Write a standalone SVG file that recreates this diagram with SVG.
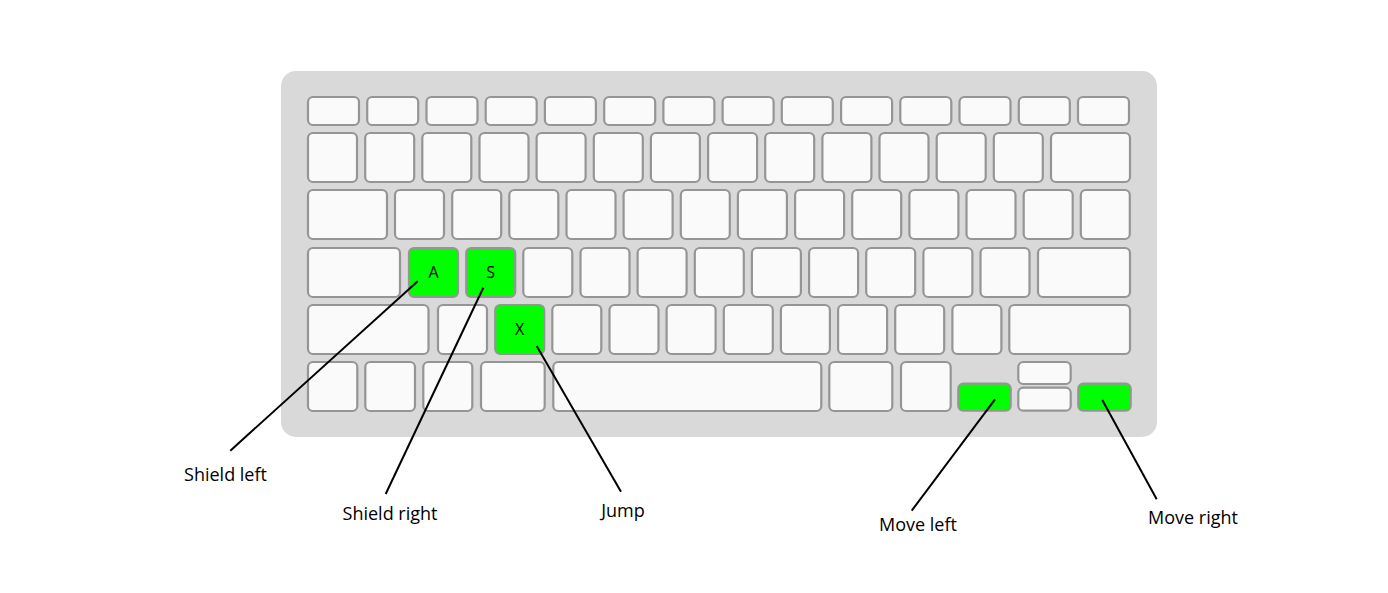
<svg xmlns="http://www.w3.org/2000/svg" width="1388" height="593" viewBox="0 0 1388 593">
<style>
.bg{fill:#ffffff}
.body{fill:#d9d9d9}
.k{fill:#fafafa;stroke:#959595;stroke-width:2.2}
.g{fill:#00ff00;stroke:#959595;stroke-width:2.2}
.kl{font-family:"Open Sans","Noto Sans",sans-serif;font-size:16px;font-weight:400;fill:#000000;text-anchor:middle}
.lbl{font-family:"Open Sans","Noto Sans",sans-serif;font-size:18px;fill:#000000;text-anchor:middle}
.c{stroke:#000000;stroke-width:2;fill:none}
</style>
<rect class="bg" x="0" y="0" width="1388" height="593"/>
<g id="keyboard">
<rect class="body" x="281" y="71" width="876" height="366" rx="15"/>
<g id="row1">
<rect class="k" x="308" y="97" width="51" height="28" rx="5"/>
<rect class="k" x="367.2" y="97" width="51" height="28" rx="5"/>
<rect class="k" x="426.5" y="97" width="51" height="28" rx="5"/>
<rect class="k" x="485.7" y="97" width="51" height="28" rx="5"/>
<rect class="k" x="544.9" y="97" width="51" height="28" rx="5"/>
<rect class="k" x="604.2" y="97" width="51" height="28" rx="5"/>
<rect class="k" x="663.4" y="97" width="51" height="28" rx="5"/>
<rect class="k" x="722.6" y="97" width="51" height="28" rx="5"/>
<rect class="k" x="781.8" y="97" width="51" height="28" rx="5"/>
<rect class="k" x="841.1" y="97" width="51" height="28" rx="5"/>
<rect class="k" x="900.3" y="97" width="51" height="28" rx="5"/>
<rect class="k" x="959.5" y="97" width="51" height="28" rx="5"/>
<rect class="k" x="1018.8" y="97" width="51" height="28" rx="5"/>
<rect class="k" x="1078" y="97" width="51" height="28" rx="5"/>
</g>
<g id="row2">
<rect class="k" x="308" y="133" width="49" height="49" rx="5"/>
<rect class="k" x="365.2" y="133" width="49" height="49" rx="5"/>
<rect class="k" x="422.3" y="133" width="49" height="49" rx="5"/>
<rect class="k" x="479.5" y="133" width="49" height="49" rx="5"/>
<rect class="k" x="536.6" y="133" width="49" height="49" rx="5"/>
<rect class="k" x="593.8" y="133" width="49" height="49" rx="5"/>
<rect class="k" x="650.9" y="133" width="49" height="49" rx="5"/>
<rect class="k" x="708.1" y="133" width="49" height="49" rx="5"/>
<rect class="k" x="765.2" y="133" width="49" height="49" rx="5"/>
<rect class="k" x="822.4" y="133" width="49" height="49" rx="5"/>
<rect class="k" x="879.5" y="133" width="49" height="49" rx="5"/>
<rect class="k" x="936.7" y="133" width="49" height="49" rx="5"/>
<rect class="k" x="993.8" y="133" width="49" height="49" rx="5"/>
<rect class="k" x="1051" y="133" width="79" height="49" rx="5"/>
</g>
<g id="row3">
<rect class="k" x="308" y="190" width="79" height="49" rx="5"/>
<rect class="k" x="395" y="190" width="49" height="49" rx="5"/>
<rect class="k" x="452.2" y="190" width="49" height="49" rx="5"/>
<rect class="k" x="509.3" y="190" width="49" height="49" rx="5"/>
<rect class="k" x="566.5" y="190" width="49" height="49" rx="5"/>
<rect class="k" x="623.6" y="190" width="49" height="49" rx="5"/>
<rect class="k" x="680.8" y="190" width="49" height="49" rx="5"/>
<rect class="k" x="737.9" y="190" width="49" height="49" rx="5"/>
<rect class="k" x="795.1" y="190" width="49" height="49" rx="5"/>
<rect class="k" x="852.2" y="190" width="49" height="49" rx="5"/>
<rect class="k" x="909.4" y="190" width="49" height="49" rx="5"/>
<rect class="k" x="966.5" y="190" width="49" height="49" rx="5"/>
<rect class="k" x="1023.7" y="190" width="49" height="49" rx="5"/>
<rect class="k" x="1080.8" y="190" width="49" height="49" rx="5"/>
</g>
<g id="row4">
<rect class="k" x="308" y="248" width="92" height="49" rx="5"/>
<rect class="k" x="523.3" y="248" width="49" height="49" rx="5"/>
<rect class="k" x="580.5" y="248" width="49" height="49" rx="5"/>
<rect class="k" x="637.6" y="248" width="49" height="49" rx="5"/>
<rect class="k" x="694.8" y="248" width="49" height="49" rx="5"/>
<rect class="k" x="751.9" y="248" width="49" height="49" rx="5"/>
<rect class="k" x="809.1" y="248" width="49" height="49" rx="5"/>
<rect class="k" x="866.2" y="248" width="49" height="49" rx="5"/>
<rect class="k" x="923.4" y="248" width="49" height="49" rx="5"/>
<rect class="k" x="980.5" y="248" width="49" height="49" rx="5"/>
<rect class="k" x="1038" y="248" width="92" height="49" rx="5"/>
</g>
<g id="row5">
<rect class="k" x="308" y="305" width="120.5" height="49" rx="5"/>
<rect class="k" x="438" y="305" width="49" height="49" rx="5"/>
<rect class="k" x="552.3" y="305" width="49" height="49" rx="5"/>
<rect class="k" x="609.5" y="305" width="49" height="49" rx="5"/>
<rect class="k" x="666.6" y="305" width="49" height="49" rx="5"/>
<rect class="k" x="723.8" y="305" width="49" height="49" rx="5"/>
<rect class="k" x="780.9" y="305" width="49" height="49" rx="5"/>
<rect class="k" x="838.1" y="305" width="49" height="49" rx="5"/>
<rect class="k" x="895.2" y="305" width="49" height="49" rx="5"/>
<rect class="k" x="952.4" y="305" width="49" height="49" rx="5"/>
<rect class="k" x="1009.3" y="305" width="120.7" height="49" rx="5"/>
</g>
<g id="row6">
<rect class="k" x="308" y="362" width="49.3" height="49" rx="5"/>
<rect class="k" x="365.3" y="362" width="49.7" height="49" rx="5"/>
<rect class="k" x="423.3" y="362" width="49" height="49" rx="5"/>
<rect class="k" x="481" y="362" width="63.7" height="49" rx="5"/>
<rect class="k" x="553.3" y="362" width="268" height="49" rx="5"/>
<rect class="k" x="829.3" y="362" width="63" height="49" rx="5"/>
<rect class="k" x="901" y="362" width="49.7" height="49" rx="5"/>
<rect class="k" x="1018.3" y="362" width="52.4" height="22" rx="5"/>
<rect class="k" x="1018.3" y="387.7" width="52.4" height="23" rx="5"/>
</g>
</g>
<g id="key-a">
<rect class="g" x="409" y="248" width="49" height="49" rx="5"/>
<text class="kl" x="433.5" y="278">A</text>
</g>
<g id="key-s">
<rect class="g" x="466.2" y="248" width="49" height="49" rx="5"/>
<text class="kl" x="490.7" y="278">S</text>
</g>
<g id="key-x">
<rect class="g" x="495.2" y="305" width="49" height="49" rx="5"/>
<text class="kl" x="519.7" y="335">X</text>
</g>
<g id="key-left">
<rect class="g" x="958.3" y="383.7" width="52.4" height="27" rx="5"/>
</g>
<g id="key-right">
<rect class="g" x="1078.3" y="383.7" width="52.4" height="27" rx="5"/>
</g>
<g id="connectors">
<line class="c" x1="417.7" y1="281.3" x2="230.3" y2="450.7"/>
<line class="c" x1="483.3" y1="287.7" x2="385.7" y2="494"/>
<line class="c" x1="536.7" y1="346" x2="621" y2="491.7"/>
<line class="c" x1="995" y1="399.3" x2="911.7" y2="510.7"/>
<line class="c" x1="1102.3" y1="400" x2="1156.7" y2="499.3"/>
</g>
<g id="label-shield-left"><text class="lbl" x="225.5" y="481">Shield left</text></g>
<g id="label-shield-right"><text class="lbl" x="390" y="520">Shield right</text></g>
<g id="label-jump"><text class="lbl" x="623" y="517">Jump</text></g>
<g id="label-move-left"><text class="lbl" x="918" y="531">Move left</text></g>
<g id="label-move-right"><text class="lbl" x="1193" y="524">Move right</text></g>
</svg>
